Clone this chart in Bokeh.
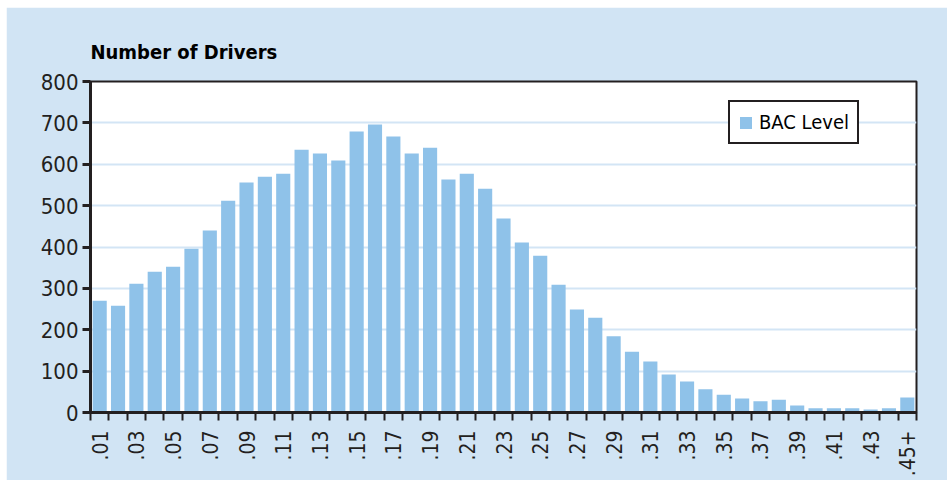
import math
from bokeh.plotting import figure
from bokeh.layouts import column, row
from bokeh.models import (Range1d, FixedTicker, ColumnDataSource, Legend, LegendItem, Spacer)
from bokeh.embed import file_html
from bokeh.resources import INLINE

categories = [".01", ".02", ".03", ".04", ".05", ".06", ".07", ".08", ".09", ".10",
              ".11", ".12", ".13", ".14", ".15", ".16", ".17", ".18", ".19", ".20",
              ".21", ".22", ".23", ".24", ".25", ".26", ".27", ".28", ".29", ".30",
              ".31", ".32", ".33", ".34", ".35", ".36", ".37", ".38", ".39", ".40",
              ".41", ".42", ".43", ".44", ".45+"]
drivers = [270, 258, 311, 340, 352, 396, 440, 512, 556, 570,
           577, 635, 626, 609, 679, 696, 667, 626, 640, 563,
           577, 541, 469, 411, 379, 309, 249, 229, 184, 147,
           123, 92, 75, 56, 43, 34, 27, 31, 17, 10,
           10, 10, 7, 10, 36]
y_ticks = [0, 100, 200, 300, 400, 500, 600, 700, 800]
series_name = "BAC Level"
title_text = "Number of Drivers"

FONT = "DejaVu Sans Condensed"
BG = "#d1e4f4"
BAR = "#8fc2e9"
INK = "#231f20"

n = len(categories)
positions = [i + 1 for i in range(n)]
label_positions = [positions[i] for i in range(0, n, 2)]
edge_positions = [i + 0.5 for i in range(n + 1)]

source = ColumnDataSource(dict(x=positions, cat=categories, val=drivers))

p = figure(x_range=Range1d(0.5, n + 0.5), y_range=Range1d(0, 800),
           width=941, height=473, output_backend="svg", toolbar_location=None,
           min_border_left=84, min_border_right=31,
           min_border_top=74, min_border_bottom=68)
p.border_fill_color = BG
p.background_fill_color = "white"
p.outline_line_color = INK
p.outline_line_width = 2

p.title.text = title_text
p.title.text_font = FONT
p.title.text_font_size = "20px"
p.title.text_font_style = "bold"
p.title.text_color = "black"
p.title.align = "left"
p.title.standoff = 35

r = p.vbar(x="x", top="val", width=0.77, source=source, color=BAR, line_color=None)

# y axis
ya = p.yaxis[0]
ya.ticker = FixedTicker(ticks=y_ticks)
ya.axis_line_color = INK
ya.axis_line_width = 3
ya.major_tick_line_color = INK
ya.major_tick_line_width = 3
ya.major_tick_out = 8
ya.major_tick_in = 0
ya.minor_tick_line_color = None
ya.major_label_text_font = FONT
ya.major_label_text_font_size = "22px"
ya.major_label_text_color = INK
ya.major_label_standoff = 4

p.ygrid.grid_line_color = "#d3e5f5"
p.ygrid.grid_line_width = 2
p.xgrid.grid_line_color = None

# x axis: labels at bar centres, tick marks at bar boundaries
xa = p.xaxis[0]
xa.ticker = FixedTicker(ticks=label_positions, minor_ticks=edge_positions)
xa.major_label_overrides = {pos: categories[pos - 1] for pos in label_positions}
xa.axis_line_color = INK
xa.axis_line_width = 3
xa.major_tick_line_color = None
xa.major_tick_out = 8
xa.major_tick_in = 0
xa.minor_tick_line_color = INK
xa.minor_tick_line_width = 2
xa.minor_tick_out = 8
xa.minor_tick_in = 0
xa.major_label_orientation = math.pi / 2
xa.major_label_text_font = FONT
xa.major_label_text_font_size = "21px"
xa.major_label_text_color = INK
xa.major_label_standoff = 10

legend = Legend(items=[LegendItem(label=series_name, renderers=[r])],
                location=(638, 268))
legend.border_line_color = INK
legend.border_line_alpha = 1
legend.border_line_width = 2
legend.label_text_font = FONT
legend.label_text_font_size = "20px"
legend.label_text_color = "black"
legend.glyph_width = 15
legend.glyph_height = 15
legend.padding = 8
legend.margin = 0
legend.label_standoff = 6
legend.background_fill_alpha = 1
p.add_layout(legend, "center")

layout = column(Spacer(height=7), row(Spacer(width=6), p))
open("out.html", "w").write(file_html(layout, INLINE))
